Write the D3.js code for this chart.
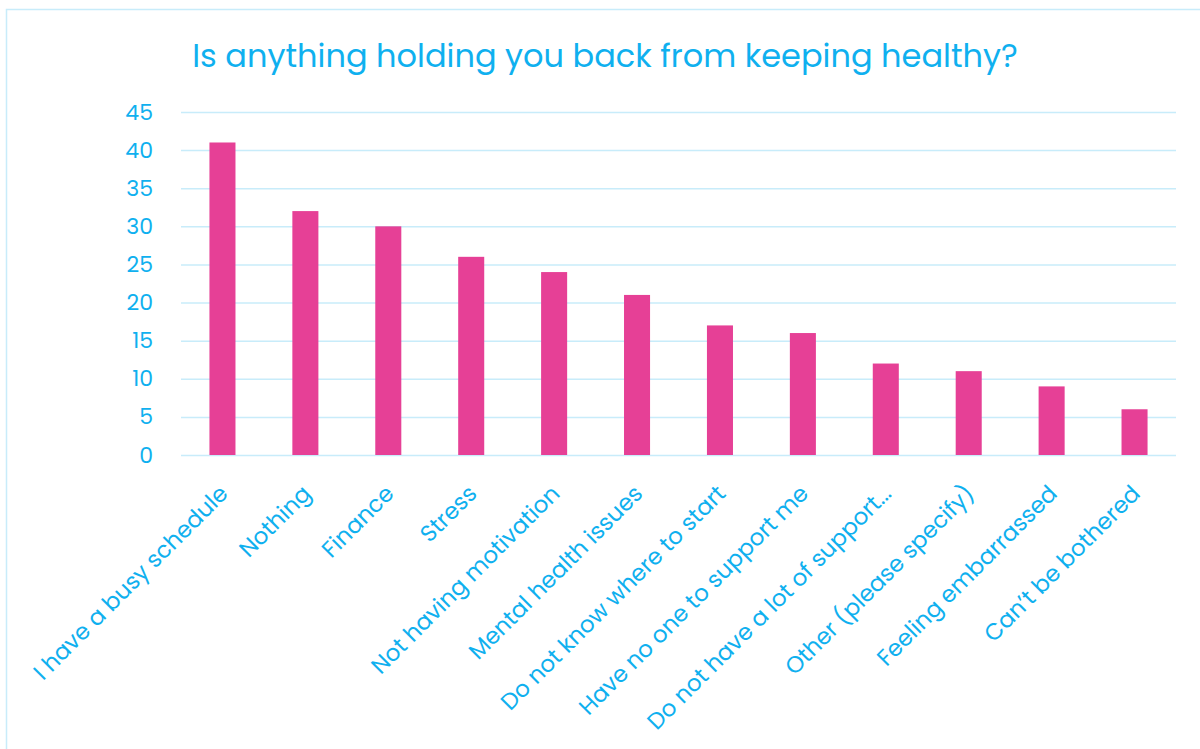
<!DOCTYPE html>
<html>
<head>
<meta charset="utf-8">
<script src="https://cdn.jsdelivr.net/npm/d3@7"></script>
<style>
  body { margin: 0; background: #fff; }
  svg { display: block; }
</style>
</head>
<body>
<svg id="chart" width="1200" height="749"></svg>
<script>
// DATA
const categories = [
  "I have a busy schedule",
  "Nothing",
  "Finance",
  "Stress",
  "Not having motivation",
  "Mental health issues",
  "Do not know where to start",
  "Have no one to support me",
  "Do not have a lot of support...",
  "Other (please specify)",
  "Feeling embarrassed",
  "Can\u2019t be bothered",
];
const counts = [41, 32, 30, 26, 24, 21, 17, 16, 12, 11, 9, 6];
const yTicks = [0, 5, 10, 15, 20, 25, 30, 35, 40, 45];
const title = "Is anything holding you back from keeping healthy?";

// CANVAS SETUP
const svg = d3.select("#chart");
const font = "Poppins, Inter, 'Noto Sans', sans-serif";
const blue = "#0fb0ef",
  pink = "#e64096",
  grid = "#c8ecfa";

const margin = { top: 112, right: 24, bottom: 294, left: 181 },
  width = 1200 - margin.left - margin.right,
  height = 749 - margin.top - margin.bottom;

// frame
svg.append("path")
  .attr("d", "M6.5,749 V9.5 H1200")
  .attr("fill", "none")
  .attr("stroke", grid)
  .attr("stroke-width", 1.5);

svg.append("text")
  .attr("x", 605)
  .attr("y", 67)
  .attr("text-anchor", "middle")
  .attr("fill", blue)
  .attr("font-family", font)
  .attr("font-size", 32)
  .text(title);

const g = svg.append("g").attr("transform", `translate(${margin.left},${margin.top})`);

const x = d3.scaleBand().domain(categories).range([0, width]).paddingInner(0.686).paddingOuter(0.343);
const y = d3.scaleLinear().domain([0, 45]).range([height, 0]);

// y axis + grid
const gy = g.append("g")
  .call(d3.axisLeft(y).tickValues(yTicks).tickSize(-width).tickPadding(28))
  .call((a) => a.select(".domain").remove());
gy.selectAll(".tick line").attr("stroke", grid).attr("stroke-width", 1.5);
gy.selectAll(".tick text")
  .attr("fill", blue)
  .attr("font-size", 22)
  .attr("font-family", font);

// bars
g.append("g")
  .selectAll("rect")
  .data(categories)
  .join("rect")
  .attr("x", (d) => x(d))
  .attr("width", x.bandwidth())
  .attr("y", (d, i) => y(counts[i]))
  .attr("height", (d, i) => y(0) - y(counts[i]))
  .attr("fill", pink);

// x axis labels
const gx = g.append("g")
  .attr("transform", `translate(0,${height})`)
  .call(d3.axisBottom(x).tickSize(0).tickPadding(0))
  .call((a) => a.select(".domain").remove());
gx.selectAll(".tick text")
  .attr("fill", blue)
  .attr("font-size", 23)
  .attr("font-family", font)
  .attr("text-anchor", "end")
  .attr("dy", 0)
  .attr("transform", "translate(7,40) rotate(-45)");
</script>
</body>
</html>
